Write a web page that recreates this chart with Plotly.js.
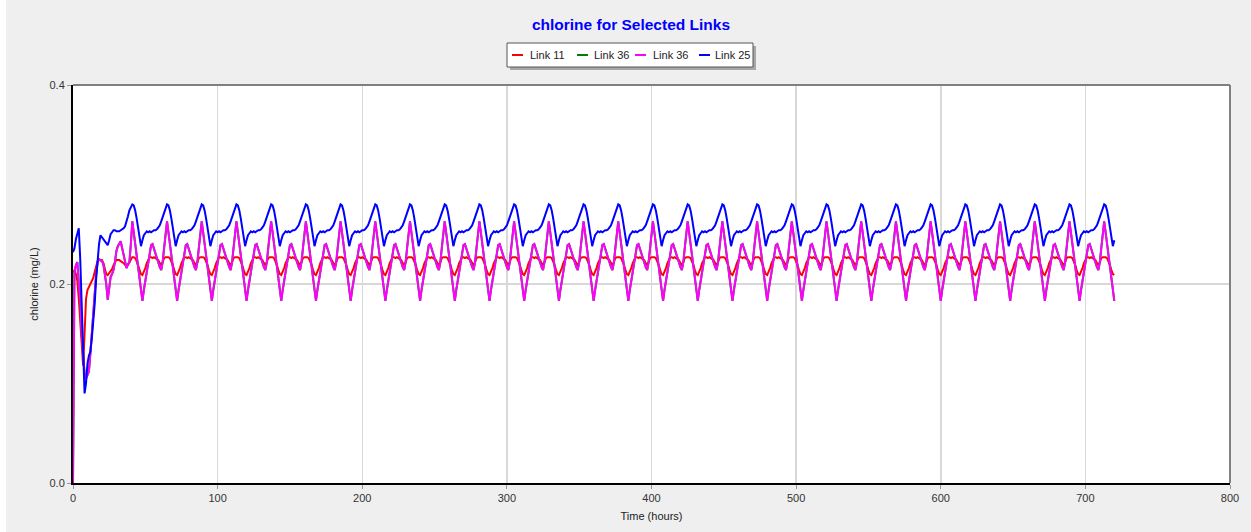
<!DOCTYPE html>
<html>
<head>
<meta charset="utf-8">
<script src="https://cdn.plot.ly/plotly-3.0.1.min.js"></script>
<style>
html,body{margin:0;padding:0;background:#ffffff;overflow:hidden;}
#chart{position:absolute;left:6px;top:0;width:1245px;height:532px;}
</style>
</head>
<body>
<div id="chart"></div>
<script>
// ---- data ----
const seriesNames  = ['Link 11', 'Link 36', 'Link 36', 'Link 25'];
const seriesColors = ['#ff0000', '#008000', '#ff00ff', '#0000ff'];

const chartTitle = 'chlorine for Selected Links';
const xTitle = 'Time (hours)';
const yTitle = 'chlorine (mg/L)';
const xTickVals = [0, 100, 200, 300, 400, 500, 600, 700, 800];
const yTickVals = [0.0, 0.2, 0.4];
const yTickText = ['0.0', '0.2', '0.4'];

// start-up period, hours 0..40 (hourly values)
const link11Startup = [
  0.212,0.214,0.210,0.203,0.185,0.160,0.130,0.118,0.150,0.185,
  0.194,0.197,0.199,0.202,0.206,0.212,0.219,0.223,0.224,0.224,
  0.224,0.221,0.215,0.210,0.209,0.211,0.212,0.215,0.219,0.222,
  0.224,0.224,0.224,0.223,0.222,0.221,0.219,0.218,0.219,0.222,
  0.225];
const link36Startup = [
  0.000,0.212,0.219,0.222,0.200,0.185,0.150,0.125,0.110,0.105,
  0.108,0.112,0.130,0.150,0.170,0.195,0.210,0.222,0.225,0.224,
  0.223,0.220,0.212,0.200,0.184,0.196,0.207,0.210,0.214,0.222,
  0.233,0.238,0.241,0.243,0.236,0.228,0.222,0.216,0.220,0.222,
  0.240];
const link25Startup = [
  0.232,0.236,0.245,0.252,0.256,0.225,0.185,0.135,0.090,0.100,
  0.120,0.128,0.132,0.145,0.162,0.180,0.205,0.225,0.240,0.249,
  0.247,0.244,0.242,0.240,0.239,0.244,0.250,0.252,0.254,0.254,
  0.253,0.253,0.253,0.254,0.255,0.256,0.258,0.262,0.268,0.274,
  0.278];

// repeating daily cycle observed from hour 41 to hour 720 (hourly values)
const cycleStartHour = 41;
const endHour = 720;
const link11Cycle = [
  0.227,0.227,0.226,0.223,0.219,0.214,0.210,0.209,0.212,0.216,
  0.221,0.225,0.227,0.227,0.226,0.227,0.226,0.225,0.224,0.221,
  0.219,0.222,0.226,0.227];
const link36Cycle = [
  0.263,0.252,0.240,0.228,0.216,0.204,0.192,0.183,0.194,0.203,
  0.212,0.221,0.231,0.239,0.240,0.235,0.230,0.225,0.221,0.217,
  0.214,0.222,0.236,0.250];
const link25Cycle = [
  0.280,0.279,0.274,0.266,0.258,0.250,0.238,0.244,0.249,0.251,
  0.253,0.252,0.253,0.252,0.253,0.254,0.254,0.255,0.257,0.259,
  0.263,0.267,0.272,0.277];

// ---- build series ----
function buildSeries(startup, cycle) {
  const x = [], y = [];
  for (let h = 0; h < startup.length; h++) { x.push(h); y.push(startup[h]); }
  for (let h = cycleStartHour; h <= endHour; h++) {
    x.push(h); y.push(cycle[(h - cycleStartHour) % cycle.length]);
  }
  return {x, y};
}
const seriesData = [
  buildSeries(link11Startup, link11Cycle),
  buildSeries(link36Startup, link36Cycle),
  buildSeries(link36Startup, link36Cycle),
  buildSeries(link25Startup, link25Cycle)
];

const traces = seriesData.map((d, i) => ({
  type: 'scatter', mode: 'lines', name: seriesNames[i],
  x: d.x, y: d.y,
  line: {color: seriesColors[i], width: 2},
  hoverinfo: 'skip', showlegend: false
}));

// ---- layout ----
const FONT = 'Liberation Sans, Arial, Helvetica, sans-serif';
const DIV_LEFT = 6, W = 1245, H = 532;
const M = {l: 67, r: 21, t: 85, b: 49};
const plotW = W - M.l - M.r, plotH = H - M.t - M.b;
// page pixel -> paper coordinate helpers
const px = X => (X - DIV_LEFT - M.l) / plotW;
const py = Y => (H - M.b - Y) / plotH;

const shapes = [
  // top and right frame
  {type:'line', xref:'paper', yref:'paper', x0:0, x1:1, y0:1, y1:1, line:{color:'#808080', width:2}},
  {type:'line', xref:'paper', yref:'paper', x0:1, x1:1, y0:0, y1:1, line:{color:'#808080', width:2}},
  // legend shadow and box
  {type:'rect', xref:'paper', yref:'paper', x0:px(510), x1:px(756), y0:py(70), y1:py(46),
   fillcolor:'#a8a8a8', line:{width:0}, layer:'above'},
  {type:'rect', xref:'paper', yref:'paper', x0:px(507), x1:px(753), y0:py(67), y1:py(43),
   fillcolor:'#ffffff', line:{color:'#555555', width:1}, layer:'above'}
];
const legendLineX = [[512,523],[577,588],[635,646],[699,710]];
const legendTextX = [528, 592, 651, 713];
const legendY = 55;
const annotations = [];
seriesNames.forEach((n, i) => {
  shapes.push({type:'line', xref:'paper', yref:'paper',
    x0:px(legendLineX[i][0]), x1:px(legendLineX[i][1]), y0:py(legendY), y1:py(legendY),
    line:{color:seriesColors[i], width:2}, layer:'above'});
  annotations.push({xref:'paper', yref:'paper', x:px(legendTextX[i]), y:py(legendY),
    xanchor:'left', yanchor:'middle', showarrow:false, text:n,
    font:{family:FONT, size:11, color:'#222222'}});
});

const layout = {
  width: W, height: H,
  margin: M,
  paper_bgcolor: '#efefef',
  plot_bgcolor: '#ffffff',
  font: {family: FONT, size: 11, color: '#333333'},
  title: {
    text: '<b>' + chartTitle + '</b>',
    font: {family: FONT, size: 15.5, color: '#0000ff'},
    xref: 'container', x: 0.502, xanchor: 'center',
    yref: 'container', y: 1 - 25 / H, yanchor: 'middle'
  },
  showlegend: false,
  xaxis: {
    range: [0, 800], tickvals: xTickVals, ticktext: xTickVals.map(String),
    showgrid: true, gridcolor: '#d8d8d8', gridwidth: 1.5,
    zeroline: false, showline: true, linecolor: '#000000', linewidth: 2,
    ticks: 'outside', ticklen: 4, tickcolor: '#999999', tickwidth: 1,
    tickfont: {family: FONT, size: 11, color: '#333333'},
    title: {text: xTitle, font: {family: FONT, size: 11, color: '#222222'}, standoff: 9},
    fixedrange: true
  },
  yaxis: {
    range: [0, 0.4], tickvals: yTickVals, ticktext: yTickText,
    showgrid: true, gridcolor: '#d8d8d8', gridwidth: 1.5,
    zeroline: false, showline: true, linecolor: '#000000', linewidth: 2,
    ticks: 'outside', ticklen: 4, tickcolor: '#999999', tickwidth: 1,
    tickfont: {family: FONT, size: 11, color: '#333333'},
    title: {text: yTitle, font: {family: FONT, size: 11, color: '#222222'}, standoff: 9},
    fixedrange: true
  },
  shapes: shapes,
  annotations: annotations
};

Plotly.newPlot('chart', traces, layout, {displayModeBar: false, staticPlot: true});
</script>
</body>
</html>
